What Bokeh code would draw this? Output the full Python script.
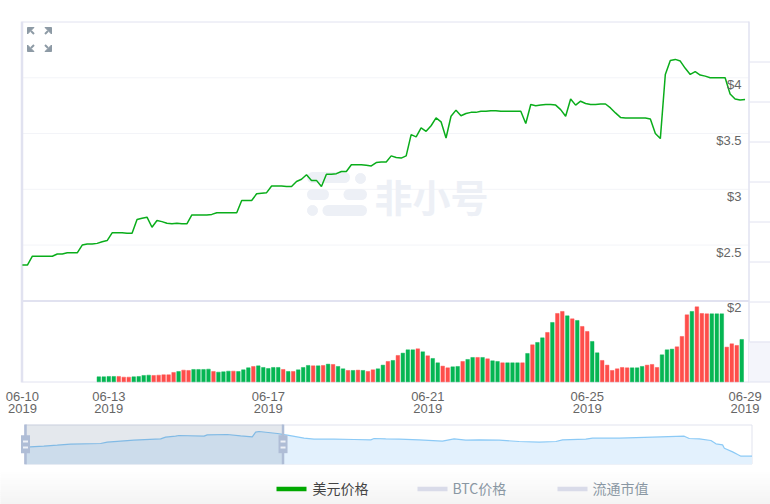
from bokeh.plotting import figure
from bokeh.models import ColumnDataSource, Range1d
from bokeh.core.properties import value
from bokeh.embed import file_html
from bokeh.resources import INLINE
import pandas as pd

# usd price, one point every 3 hours
prices = [2.32, 2.32, 2.40, 2.40, 2.40, 2.40, 2.40, 2.42, 2.42, 2.43, 2.43, 2.43, 2.50, 2.51, 2.51, 2.515,
          2.53, 2.54, 2.61, 2.61, 2.61, 2.605, 2.605, 2.73, 2.74, 2.75, 2.66, 2.72, 2.71, 2.695, 2.69, 2.695,
          2.69, 2.69, 2.77, 2.77, 2.77, 2.77, 2.775, 2.79, 2.79, 2.79, 2.79, 2.79, 2.90, 2.90, 2.90, 2.96,
          2.965, 2.97, 3.03, 3.03, 3.03, 3.025, 3.025, 3.07, 3.09, 3.13, 3.08, 3.08, 3.025, 3.135, 3.135, 3.14,
          3.16, 3.16, 3.22, 3.22, 3.22, 3.215, 3.21, 3.24, 3.245, 3.245, 3.30, 3.285, 3.28, 3.30, 3.49, 3.47,
          3.55, 3.52, 3.57, 3.64, 3.605, 3.46, 3.655, 3.71, 3.66, 3.68, 3.69, 3.69, 3.70, 3.70, 3.705, 3.705,
          3.70, 3.70, 3.70, 3.70, 3.70, 3.59, 3.76, 3.75, 3.755, 3.76, 3.76, 3.755, 3.715, 3.655, 3.81, 3.755,
          3.79, 3.77, 3.76, 3.76, 3.765, 3.765, 3.73, 3.685, 3.645, 3.64, 3.64, 3.64, 3.64, 3.64, 3.63, 3.50,
          3.455, 4.03, 4.155, 4.165, 4.15, 4.085, 4.03, 4.055, 4.025, 4.015, 4.00, 4.00, 4.00, 4.00, 3.855, 3.81,
          3.80, 3.805]

volumes = [15, 15, 16, 16, 16, 14, 14, 15, 16, 19, 20, 19, 20, 21, 21, 28, 31, 35, 34, 37, 37, 37, 38, 31, 29, 30,
           32, 32, 31, 36, 42, 46, 48, 43, 40, 43, 43, 37, 31, 31, 36, 43, 49, 48, 48, 49, 53, 52, 46, 39, 34, 34,
           35, 34, 31, 36, 39, 50, 61, 64, 79, 86, 96, 96, 99, 90, 78, 70, 57, 47, 42, 45, 46, 61, 67, 73, 73, 73,
           69, 63, 61, 57, 57, 57, 57, 57, 85, 111, 118, 132, 148, 178, 205, 211, 198, 189, 184, 166, 151, 121, 87,
           64, 50, 34, 39, 43, 42, 42, 42, 46, 50, 52, 43, 81, 96, 98, 105, 136, 201, 211, 225, 205, 204, 204, 204,
           204, 104, 114, 109, 127]
# g = price went up in that bar, r = down
volume_up = ("gggg rrr gggg rrrrr g rr gggg r ggg r ggg r g "
             "gggg r g r ggg r g r g r gg r g r g rr gg r g r ggg r g r gg rr gg r gg r g r gg r ggg "
             "r g r gg r g rr g r g rr gg rrrrrr ggg rrr ggg rrr g rrr ggg rrr g").replace(" ", "")

# navigator: days since first point / overview value
nav_days = [0, 1.35, 2.34, 3.32, 5.54, 6.03, 8.0, 9.97, 10.34, 11.07, 11.32, 13.17, 13.41, 14.89, 15.87, 16.73,
            16.98, 17.23, 18.58, 19.32, 20.55, 21.29, 22.76, 24.24, 25.47, 25.72, 26.58, 27.56, 29.04, 30.76,
            31.62, 32.49, 33.47, 34.95, 36.42, 37.9, 39.13, 39.62, 41.34, 41.84, 43.81, 46.27, 48.6, 48.97,
            49.71, 50.57, 50.94, 51.43, 51.56, 52.17, 52.54, 52.79, 53.6]
nav_values = [51, 54, 57, 60, 62, 66, 72, 76, 81, 84, 86, 84, 88, 89, 85, 82, 96, 98, 92, 87, 78, 75, 75, 74, 73,
              77, 76, 75, 73, 69, 76, 72, 73, 72, 68, 66, 68, 73, 75, 78, 78, 81, 84, 77, 76, 71, 61, 58, 48, 37,
              29, 24, 24]
nav_selected = [0, 19]

price_ticks = [2, 2.5, 3, 3.5, 4]
price_labels = ["$2", "$2.5", "$3", "$3.5", "$4"]
grid_dates = ["2019-06-13", "2019-06-17", "2019-06-21", "2019-06-25", "2019-06-29"]
date_labels = ["06-10", "06-13", "06-17", "06-21", "06-25", "06-29"]
year_labels = ["2019"] * 6
legend_names = ["美元价格", "BTC价格", "流通市值"]

line_dates = pd.date_range("2019-06-10 20:00", periods=len(prices), freq="3h")
bar_dates = pd.date_range("2019-06-12 18:00", periods=len(volumes), freq="3h")
label_dates = [line_dates[0]] + [pd.Timestamp(d) for d in grid_dates[:-1]] + [line_dates[-1]]

W, H = 770, 504
LEFT, TOP = 0, 0  # page position of the figure


def span(p0, v0, p1, v1, a, b):
    # range ends for pixels a..b, given two pixel/value pairs
    k = (v1 - v0) / (p1 - p0)
    return Range1d(v0 + (a - p0) * k, v0 + (b - p0) * k)


t0 = pd.Timestamp("2019-06-13").value / 1e6
day = 86400000
p = figure(width=W, height=H, output_backend="svg", toolbar_location=None,
           x_axis_location=None, y_axis_location=None, min_border=0,
           x_range=span(108.3, t0, 108.3 + 39.87, t0 + day, LEFT, LEFT + W),
           y_range=span(300.3, 2, 77.3, 4, TOP + H, TOP))
p.outline_line_color = None
p.grid.visible = False
p.background_fill_color = "white"
p.border_fill_color = "white"

p.extra_x_ranges = {"px": Range1d(LEFT, LEFT + W),
                    "nav": span(25, 0, 751.5, 53.6, LEFT, LEFT + W)}
p.extra_y_ranges = {"px": Range1d(TOP + H, TOP),
                    "vol": span(381.3, 0, 300.3, 243, TOP + H, TOP),
                    "nav": span(463.7, 0, 424, 119, TOP + H, TOP)}

# soft gradient under the legend
rows = list(range(468, 504, 2))
shades = ["#%02x%02x%02x" % (c, c, c) for c in [255 - (r - 468) * 12 // 36 for r in rows]]
p.quad(left=LEFT, right=LEFT + W, top=rows, bottom=[r + 2 for r in rows], color=shades,
       x_range_name="px", y_range_name="px")

# grid
p.segment(x0=22, x1=748, y0=price_ticks[1:], y1=price_ticks[1:], line_color="#f3f4f8", line_width=1,
          x_range_name="px")
p.segment(x0=grid_dates, x1=grid_dates, y0=21, y1=381, line_color="#f1f2f7", line_width=1, y_range_name="px")

# watermark
wm = "#edf0f6"
p.segment(x0=[312, 312, 348.5, 327.5], x1=[344, 323, 361, 361], y0=[177, 194, 194, 210], y1=[177, 194, 194, 210],
          line_color=wm, line_width=11, line_cap="round", x_range_name="px", y_range_name="px")
p.scatter(x=[360, 312], y=[178, 210], size=10, color=wm, x_range_name="px", y_range_name="px")
p.text(x=[431], y=[195], text=["非小号"], text_font=value("Noto Sans CJK SC"), text_font_style="bold",
       text_font_size="38px", text_color=wm, text_align="center", text_baseline="middle",
       x_range_name="px", y_range_name="px")

# frame lines
border = "#e1e2f0"
p.segment(x0=[22, 22, 22, 748.5, 21.5], x1=[748.5, 748.5, 748.5, 748.5, 21.5], y0=[21.5, 300.5, 381.5, 21, 21],
          y1=[21.5, 300.5, 381.5, 382, 382], line_color=border, line_width=[1, 2, 1, 1.5, 2.5],
          x_range_name="px", y_range_name="px")
right_rows = [61, 101, 141, 181, 221, 261, 301, 341, 381]
p.quad(left=749, right=LEFT + W, top=341.5, bottom=381, color="#f4f5fb", x_range_name="px", y_range_name="px")
p.segment(x0=749, x1=LEFT + W, y0=[r + 0.5 for r in right_rows], y1=[r + 0.5 for r in right_rows],
          line_color=border, line_width=1, x_range_name="px", y_range_name="px")

# expand icon
icon = "#8d9aa5"
for cx, cy, sx, sy in [(30.5, 30.5, -1, -1), (47.5, 30.5, 1, -1), (30.5, 47.5, -1, 1), (47.5, 47.5, 1, 1)]:
    p.patch(x=[cx + sx * 3.5, cx - sx * 3, cx + sx * 3.5], y=[cy + sy * 3.5, cy + sy * 3.5, cy - sy * 3],
            color=icon, x_range_name="px", y_range_name="px")
    p.segment(x0=[cx], x1=[cx - sx * 3], y0=[cy], y1=[cy - sy * 3], line_color=icon, line_width=2,
              x_range_name="px", y_range_name="px")

# volume bars
bars = ColumnDataSource(data=dict(date=bar_dates, top=volumes,
                                  color=["#05b653" if c == "g" else "#fe4e4b" for c in volume_up]))
p.vbar(x="date", top="top", bottom=0, width=3 * 3600 * 1000 * 0.72, source=bars, fill_color="color",
       line_color="color", line_alpha=0.45, line_width=1, y_range_name="vol")

# price
p.line(line_dates, prices, line_color="#0aad1b", line_width=1.5)

p.text(x=741, y=price_ticks, text=price_labels, text_font=value("Liberation Sans"), text_font_size="13px",
       text_color="#666666", text_align="right", text_baseline="middle", y_offset=7, x_range_name="px")
p.text(x=label_dates, y=396, text=date_labels, text_font=value("Liberation Sans"), text_font_size="13px",
       text_color="#666666", text_align="center", text_baseline="middle", y_range_name="px")
p.text(x=label_dates, y=408, text=year_labels, text_font=value("Liberation Sans"), text_font_size="13px",
       text_color="#666666", text_align="center", text_baseline="middle", y_range_name="px")

# navigator
p.quad(left=24, right=751.5, top=424.5, bottom=463.5, fill_color="white", line_color="#e1e3ee",
       x_range_name="px", y_range_name="px")
p.varea(x=nav_days, y1=[0] * len(nav_days), y2=nav_values, fill_color="#e3f1fd", x_range_name="nav", y_range_name="nav")
p.line(nav_days, nav_values, line_color="#8ccaf6", line_width=1.2, x_range_name="nav", y_range_name="nav")
p.quad(left=nav_selected[0], right=nav_selected[1], top=119, bottom=0, fill_color="#3f5f80", fill_alpha=0.14,
       line_color=None, x_range_name="nav", y_range_name="nav")
handle = "#afbdd6"
p.segment(x0=nav_selected, x1=nav_selected, y0=0, y1=119, line_color=handle, line_width=2.5,
          x_range_name="nav", y_range_name="nav")
for d in nav_selected:
    p.rect(x=[d], y=[60], width=9, height=18, width_units="screen", height_units="screen",
           fill_color=handle, line_color=None, x_range_name="nav", y_range_name="nav")
    p.rect(x=[d, d], y=[68, 50], width=5, height=2, width_units="screen", height_units="screen",
           fill_color="#eef1f7", line_color=None, x_range_name="nav", y_range_name="nav")

# legend
p.segment(x0=[276, 417, 557], x1=[306, 447, 587], y0=488.5, y1=488.5, line_color=["#00a800", "#d9dbe9", "#d9dbe9"],
          line_width=[4.5, 4.5, 4.5], x_range_name="px", y_range_name="px")
p.text(x=[312, 452, 592], y=487.5, text=legend_names, text_font=value("Noto Sans CJK SC"), text_font_size="14px",
       text_color=["#444444", "#8a97a3", "#8a97a3"], text_align="left", text_baseline="middle",
       x_range_name="px", y_range_name="px")

open("out.html", "w").write(file_html(p, INLINE))
